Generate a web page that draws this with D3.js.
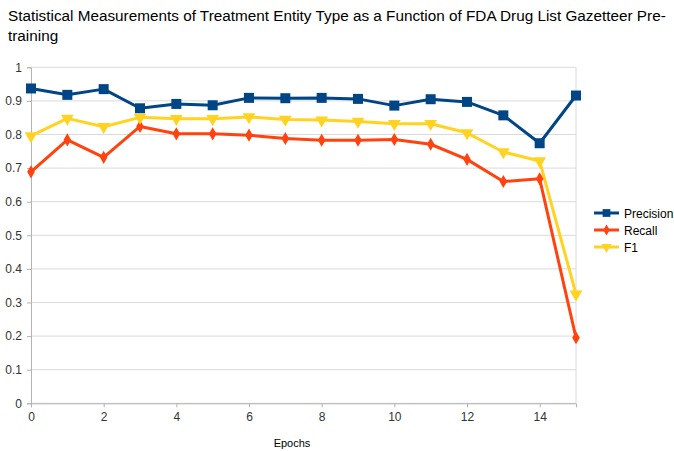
<!DOCTYPE html>
<html><head><meta charset="utf-8">
<script src="https://cdn.jsdelivr.net/npm/d3@7"></script>
<style>body{margin:0;background:#fff;font-family:"Liberation Sans",Arial,sans-serif;}</style>
</head><body><svg id="c" width="674" height="451"></svg>
<script>
const epochs = [0,1,2,3,4,5,6,7,8,9,10,11,12,13,14,15];
const precision = [0.937,0.918,0.935,0.878,0.891,0.887,0.909,0.908,0.909,0.906,0.886,0.905,0.897,0.857,0.774,0.916];
const recall = [0.689,0.784,0.732,0.824,0.802,0.802,0.798,0.788,0.783,0.783,0.785,0.771,0.726,0.660,0.668,0.195];
const f1 = [0.796,0.848,0.823,0.851,0.847,0.847,0.852,0.845,0.843,0.839,0.832,0.832,0.805,0.748,0.721,0.325];
const yTicks = [0,0.1,0.2,0.3,0.4,0.5,0.6,0.7,0.8,0.9,1];
const xTicks = [0,2,4,6,8,10,12,14];
const seriesNames = ["Precision","Recall","F1"];
const colors = ["#004586","#ff420e","#ffd320"];
const series = [precision, recall, f1];

const svg = d3.select("#c");
const x = d3.scaleLinear().domain([0,15]).range([31,576]);
const y = d3.scaleLinear().domain([0,1]).range([403.3,67.3]);

svg.append("text").attr("x",8).attr("y",21).attr("font-size",15.3).attr("fill","#000")
  .text("Statistical Measurements of Treatment Entity Type as a Function of FDA Drug List Gazetteer Pre-");
svg.append("text").attr("x",8).attr("y",41).attr("font-size",15.3).attr("fill","#000").text("training");

// grid
svg.append("g").selectAll("line").data(yTicks).join("line")
  .attr("x1",x(0)).attr("x2",x(15)).attr("y1",d=>y(d)).attr("y2",d=>y(d))
  .attr("stroke","#dadada").attr("stroke-width",1);
svg.append("line").attr("x1",x(15)).attr("x2",x(15)).attr("y1",y(0)).attr("y2",y(1)).attr("stroke","#dadada");

const yAxis = svg.append("g").attr("transform",`translate(${x(0)},0)`)
  .call(d3.axisLeft(y).tickValues(yTicks).tickSize(4).tickFormat(d=>d3.format("~g")(d)));
const xAxis = svg.append("g").attr("transform",`translate(0,${y(0)})`)
  .call(d3.axisBottom(x).tickValues(xTicks).tickSize(4).tickFormat(d3.format("d")));
[yAxis,xAxis].forEach(a=>{
  a.select(".domain").attr("stroke","#b3b3b3");
  a.selectAll(".tick line").attr("stroke","#b3b3b3");
  a.selectAll("text").attr("font-size",12).attr("fill","#333").attr("font-family","Liberation Sans, Arial, sans-serif");
});
yAxis.selectAll("text").attr("x",-9);
xAxis.selectAll("text").attr("y",9);

svg.append("text").attr("x",292).attr("y",447).attr("text-anchor","middle").attr("font-size",11).attr("fill","#000").text("Epochs");

const line = d3.line().x((d,i)=>x(epochs[i])).y(d=>y(d));
const sq = d3.symbol().type(d3.symbolSquare).size(100);
const dia = d3.symbol().type(d3.symbolDiamond).size(50);
const tri = d3.symbol().type(d3.symbolTriangle).size(70);
const syms = [sq, dia, tri];
const rots = [0,0,180];

series.forEach((s,k)=>{
  svg.append("path").datum(s).attr("d",line).attr("fill","none").attr("stroke",colors[k]).attr("stroke-width",3).attr("stroke-linejoin","round");
});
series.forEach((s,k)=>{
  svg.append("g").selectAll("path").data(s).join("path")
    .attr("d",syms[k]).attr("fill",colors[k])
    .attr("transform",(d,i)=>`translate(${x(epochs[i])},${y(d)}) rotate(${rots[k]})`);
});

// legend
const lg = svg.append("g");
seriesNames.forEach((n,k)=>{
  const yy = 213 + k*17;
  lg.append("line").attr("x1",594).attr("x2",619).attr("y1",yy).attr("y2",yy).attr("stroke",colors[k]).attr("stroke-width",3);
  lg.append("path").attr("d",d3.symbol().type([d3.symbolSquare,d3.symbolDiamond,d3.symbolTriangle][k]).size([60,35,45][k]))
    .attr("fill",colors[k]).attr("transform",`translate(606.5,${yy}) rotate(${rots[k]})`);
  lg.append("text").attr("x",624).attr("y",yy+4.5).attr("font-size",12).attr("fill","#000").text(n);
});
</script></body></html>
